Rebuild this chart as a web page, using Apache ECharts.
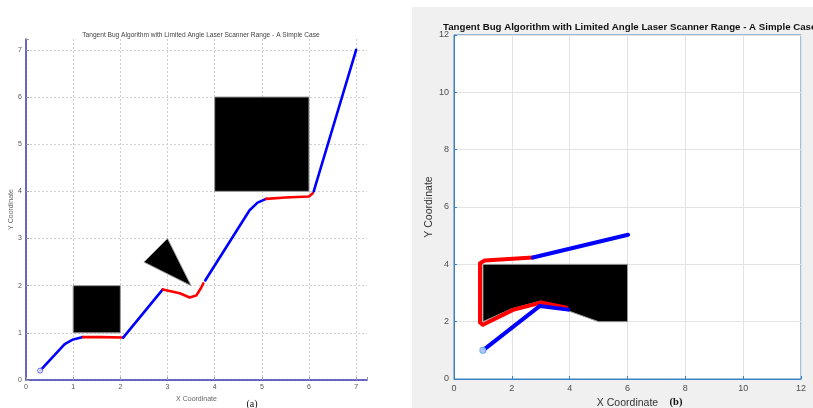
<!DOCTYPE html>
<html>
<head>
<meta charset="utf-8">
<script src="https://cdn.jsdelivr.net/npm/echarts@6/dist/echarts.min.js"></script>
<style>
    html, body { margin: 0; background: #fff; }
    #chart { width: 813px; height: 408px; }
</style>
</head>
<body>
<div id="chart"></div>
<script>
// ---- panel (a) data ----
const titleText = 'Tangent Bug Algorithm with Limited Angle Laser Scanner Range - A Simple Case';
const ticksA = [0, 1, 2, 3, 4, 5, 6, 7];
const startA = [[0.3, 0.2]];
const blueA1 = [[0.3, 0.2], [0.55, 0.47], [0.82, 0.76], [1.0, 0.86], [1.21, 0.91]];
const redA1 = [[1.21, 0.91], [1.6, 0.91], [2.06, 0.9]];
const blueA2 = [[2.06, 0.9], [2.9, 1.92]];
const redA2 = [[2.9, 1.92], [3.26, 1.84], [3.47, 1.75], [3.61, 1.79], [3.71, 1.95], [3.76, 2.05]];
const blueA3 = [[3.8, 2.11], [4.74, 3.6], [4.91, 3.76], [5.09, 3.84]];
const redA3 = [[5.09, 3.84], [5.5, 3.87], [6.0, 3.89], [6.08, 3.96]];
const blueA4 = [[6.1, 4.0], [7.0, 7.0]];
const obstaclesA = [
    [[1, 1], [2, 1], [2, 2], [1, 2]],
    [[2.5, 2.5], [3.0, 3.0], [3.5, 2.0]],
    [[4, 4], [6, 4], [6, 6], [4, 6]]
];

// ---- panel (b) data ----
const ticksB = [0, 2, 4, 6, 8, 10, 12];
const startB = [[1, 1]];
const blueB1 = [[1, 1], [2.97, 2.55], [3.95, 2.42]];
const redB = [[3.89, 2.49], [3.02, 2.67], [2.04, 2.41], [1.0, 1.89], [0.9, 1.97], [0.9, 4.04], [1.06, 4.13], [2.73, 4.24]];
const blueB2 = [[2.73, 4.24], [6.02, 5.03]];
const obstaclesB = [
    [[1, 4], [6, 4], [6, 2], [5, 2], [3, 2.72], [2, 2.45], [1, 2]]
];

const myChart = echarts.init(document.getElementById('chart'));

function polyRender(list) {
    return function (params, api) {
        const pts = list[params.dataIndex].map(p => api.coord(p));
        return {
            type: 'polygon',
            shape: { points: pts },
            style: { fill: '#000', stroke: '#9a9a9a', lineWidth: 1 }
        };
    };
}

function pathSeries(data, color, width, idx) {
    return {
        type: 'line',
        xAxisIndex: idx,
        yAxisIndex: idx,
        data: data,
        showSymbol: false,
        symbol: 'none',
        lineStyle: { color: color, width: width, cap: 'round', join: 'round' },
        z: 3
    };
}

// grid line colours for (a): last line (at the axis max) hidden
const dotted = ticksA.map(() => '#cfcfcf').concat(['rgba(0,0,0,0)']);

const axisA = {
    type: 'value',
    min: 0,
    max: 7.23,
    interval: 1,
    axisLine: { show: true, lineStyle: { color: '#3a3ab4', width: 1.5 } },
    axisTick: { show: true, inside: true, length: 3, lineStyle: { color: '#999' } },
    axisLabel: {
        color: '#555',
        fontSize: 7,
        margin: 4,
        formatter: v => (ticksA.indexOf(v) >= 0 ? String(v) : '')
    },
    splitLine: { show: true, lineStyle: { color: dotted, type: [2, 2], width: 1 } },
    nameLocation: 'middle',
    nameTextStyle: { color: '#666', fontSize: 7 }
};

const axisB = {
    type: 'value',
    min: 0,
    max: 12,
    interval: 2,
    axisLine: { show: true, lineStyle: { color: '#3a82c4', width: 1 } },
    axisTick: { show: true, inside: true, length: 3, lineStyle: { color: '#3a82c4' } },
    axisLabel: { color: '#4d4d4d', fontSize: 9, margin: 5 },
    splitLine: { show: true, lineStyle: { color: '#e3e3e3', width: 1 } },
    nameLocation: 'middle',
    nameTextStyle: { color: '#333', fontSize: 10.5 }
};

const option = {
    animation: false,
    backgroundColor: '#fff',
    title: [
        {
            text: titleText,
            left: 196, top: 27, textAlign: 'center',
            textStyle: { color: '#444', fontSize: 6.6, fontWeight: 'normal', fontFamily: 'Liberation Sans' }
        },
        {
            text: titleText,
            left: 438, top: 17,
            textStyle: { color: '#111', fontSize: 9.7, fontWeight: 'bold', fontFamily: 'Liberation Sans' }
        }
    ],
    graphic: [
        { type: 'rect', shape: { x: 412, y: 7, width: 401, height: 401 }, style: { fill: '#f0f0f0' }, z: -10 },
        { type: 'text', x: 252, y: 404, style: { text: '(a)', fill: '#111', font: '10px "Liberation Serif"', align: 'center', verticalAlign: 'middle' } },
        { type: 'text', x: 676, y: 402, style: { text: '(b)', fill: '#111', font: 'bold 10.5px "Liberation Serif"', align: 'center', verticalAlign: 'middle' } }
    ],
    grid: [
        { left: 26, top: 39, width: 341, height: 341, show: false, outerBoundsMode: 'none' },
        { left: 454, top: 35, width: 347, height: 344, show: true, backgroundColor: '#fff', borderColor: '#3a82c4', borderWidth: 1, outerBoundsMode: 'none' }
    ],
    xAxis: [
        Object.assign({}, axisA, { gridIndex: 0, name: 'X Coordinate', nameGap: 15 }),
        Object.assign({}, axisB, { gridIndex: 1, name: 'X Coordinate', nameGap: 19 })
    ],
    yAxis: [
        Object.assign({}, axisA, { gridIndex: 0, name: 'Y Coordinate', nameGap: 9 }),
        Object.assign({}, axisB, { gridIndex: 1, name: 'Y Coordinate', nameGap: 17 })
    ],
    series: [
        {
            type: 'custom',
            xAxisIndex: 0, yAxisIndex: 0,
            renderItem: polyRender(obstaclesA),
            data: obstaclesA.map(p => p[0]),
            clip: false,
            z: 2
        },
        {
            type: 'custom',
            xAxisIndex: 1, yAxisIndex: 1,
            renderItem: polyRender(obstaclesB),
            data: obstaclesB.map(p => p[0]),
            clip: false,
            z: 2
        },
        pathSeries(blueA1, '#0000ff', 2.6, 0),
        pathSeries(redA1, '#ff0000', 2.6, 0),
        pathSeries(blueA2, '#0000ff', 2.6, 0),
        pathSeries(redA2, '#ff0000', 2.6, 0),
        pathSeries(blueA3, '#0000ff', 2.6, 0),
        pathSeries(redA3, '#ff0000', 2.6, 0),
        pathSeries(blueA4, '#0000ff', 2.6, 0),
        {
            type: 'scatter', xAxisIndex: 0, yAxisIndex: 0, data: startA,
            symbol: 'circle', symbolSize: 5,
            itemStyle: { color: '#fff', borderColor: '#3b3bff', borderWidth: 1 }, z: 4
        },
        pathSeries(redB, '#ff0000', 4, 1),
        pathSeries(blueB1, '#0000ff', 4, 1),
        pathSeries(blueB2, '#0000ff', 4, 1),
        {
            type: 'scatter', xAxisIndex: 1, yAxisIndex: 1, data: startB,
            symbol: 'circle', symbolSize: 6,
            itemStyle: { color: '#dfefff', borderColor: '#4aa0e0', borderWidth: 1.2 }, z: 4
        }
    ]
};

myChart.setOption(option);

window.addEventListener('resize', () => {
    myChart.resize();
});
</script>
</body>
</html>
